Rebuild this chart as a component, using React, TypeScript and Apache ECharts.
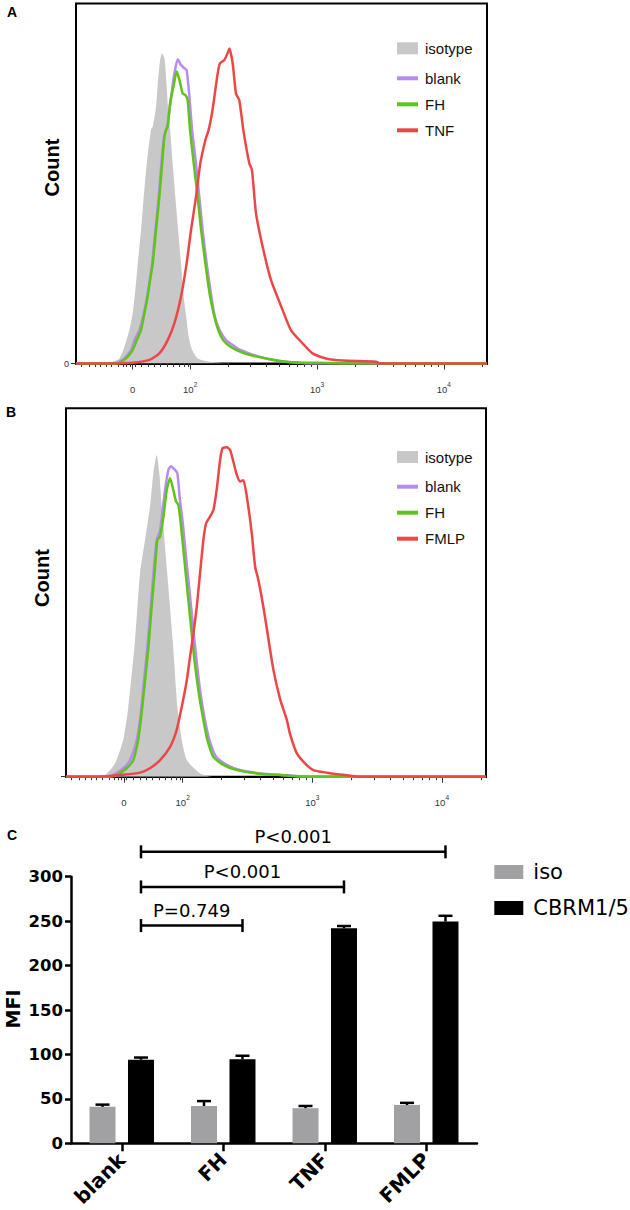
import React, { useEffect, useRef } from 'react';
import * as echarts from 'echarts';

// ---------- Panels A & B: flow histograms (x in decades of fluorescence, y in % of max count)
const decadeMin = 1.1;
const decadeMax = 4.34;
const majorTickPos = [1.547, 2, 3, 4];
const majorTickBase = ['0', '10', '10', '10'];
const majorTickSup = ['', '2', '3', '4'];
const minorTickPos = [
  1.143, 1.203, 1.248, 1.293, 1.337, 1.381, 1.43, 1.47, 1.5, 1.53, 1.568, 1.616, 1.673, 1.72, 1.768,
  1.816, 1.863, 1.911, 1.952, 1.984, 2.301, 2.477, 2.602, 2.699, 2.778, 2.845, 2.903, 2.954, 3.301,
  3.477, 3.602, 3.699, 3.778, 3.845, 3.903, 3.954, 4.301,
];

const isotypeA = [[1.1,0],[1.285,0],[1.39,0.5],[1.443,1.4],[1.482,4.7],[1.521,9.3],[1.547,13.9],[1.568,20.4],[1.587,27.8],[1.613,37.1],[1.634,46.3],[1.653,53.8],[1.673,60.2],[1.692,64.9],[1.705,65.8],[1.731,71.3],[1.747,78.7],[1.763,84.3],[1.779,86.2],[1.797,84.8],[1.802,83.4],[1.815,76.9],[1.828,69.5],[1.842,64.9],[1.862,55.6],[1.883,46.3],[1.905,37.1],[1.928,27.8],[1.949,18.6],[1.972,12.1],[1.988,7.5],[2.015,3.8],[2.059,1.4],[2.151,0.5],[2.335,0],[4.34,0]];
const blankA = [[1.1,0],[1.4,0],[1.443,0.5],[1.482,1.4],[1.535,3.8],[1.561,6.5],[1.6,9.3],[1.634,13.9],[1.661,18.6],[1.7,27.8],[1.726,37.1],[1.752,46.3],[1.773,55.6],[1.794,63.0],[1.81,64.9],[1.823,66.7],[1.85,74.1],[1.876,80.6],[1.902,84.5],[1.928,82.9],[1.954,82.0],[1.972,81.5],[1.994,74.1],[2.015,64.9],[2.046,55.6],[2.072,46.3],[2.098,37.1],[2.13,27.8],[2.167,18.6],[2.195,13.0],[2.232,9.3],[2.283,6.5],[2.335,5.1],[2.387,3.9],[2.466,2.8],[2.545,1.9],[2.65,1.0],[2.755,0.5],[2.95,0],[4.34,0]];
const fhA = [[1.1,0],[1.41,0],[1.443,0.2],[1.495,1.4],[1.547,3.8],[1.579,6.5],[1.613,9.3],[1.639,13.9],[1.665,18.6],[1.684,23.2],[1.705,27.8],[1.731,37.1],[1.757,46.3],[1.779,55.6],[1.797,63.0],[1.81,64.9],[1.823,65.8],[1.842,72.3],[1.868,76.9],[1.894,81.1],[1.915,78.8],[1.941,75.0],[1.962,74.6],[1.98,73.2],[1.999,64.9],[2.028,55.6],[2.059,46.3],[2.086,37.1],[2.12,27.8],[2.157,18.6],[2.204,11.2],[2.243,7.5],[2.283,5.6],[2.361,3.8],[2.466,2.4],[2.598,1.4],[2.755,0.5],[2.86,0.3],[3.15,0.1],[3.2,0],[4.34,0]];
const tnfA = [[1.1,0],[1.4,0],[1.547,0.2],[1.679,1.0],[1.757,2.8],[1.823,6.5],[1.876,11.2],[1.928,18.6],[1.972,27.8],[2.007,37.1],[2.046,46.3],[2.08,55.6],[2.12,62.1],[2.146,64.9],[2.172,69.5],[2.191,74.1],[2.217,80.6],[2.235,83.4],[2.269,84.3],[2.295,86.2],[2.309,87.5],[2.335,83.4],[2.361,75.0],[2.387,73.2],[2.419,64.9],[2.466,55.6],[2.487,53.8],[2.519,41.7],[2.571,32.5],[2.637,23.2],[2.728,14.9],[2.794,9.3],[2.886,5.6],[2.965,2.8],[3.07,1.4],[3.201,0.8],[3.464,0.5],[3.5,0],[4.34,0]];

const isotypeB = [[1.1,0],[1.3,0],[1.401,0.5],[1.478,3.6],[1.542,10.0],[1.581,19.0],[1.633,37.1],[1.671,55.2],[1.71,64.3],[1.748,73.3],[1.774,82.4],[1.8,87.3],[1.82,82.4],[1.839,73.3],[1.881,55.2],[1.923,37.1],[1.959,19.0],[1.993,10.0],[2.032,4.5],[2.134,0.9],[2.237,0],[4.34,0]];
const blankB = [[1.1,0],[1.4,0],[1.463,0.5],[1.542,2.3],[1.594,4.5],[1.646,10.0],[1.677,17.2],[1.702,26.2],[1.728,35.3],[1.754,46.2],[1.779,57.0],[1.8,64.3],[1.826,67.0],[1.864,77.8],[1.89,83.3],[1.91,84.3],[1.941,83.3],[1.959,82.4],[1.979,75.1],[2.001,68.8],[2.026,59.7],[2.052,50.7],[2.078,41.6],[2.104,32.6],[2.134,23.5],[2.167,16.3],[2.206,10.0],[2.258,5.4],[2.34,3.2],[2.442,1.8],[2.597,0.9],[2.751,0.5],[3.0,0],[4.34,0]];
const fhB = [[1.1,0],[1.43,0],[1.491,0.5],[1.568,2.3],[1.619,4.5],[1.657,10.0],[1.683,17.2],[1.71,26.2],[1.736,35.3],[1.761,46.2],[1.787,57.0],[1.805,64.3],[1.826,65.2],[1.852,70.6],[1.877,77.8],[1.903,81.0],[1.928,77.8],[1.949,74.7],[1.967,73.8],[1.985,68.8],[2.011,59.7],[2.036,50.7],[2.062,41.6],[2.088,32.6],[2.121,23.5],[2.155,16.3],[2.191,10.0],[2.237,5.4],[2.314,3.2],[2.417,1.8],[2.571,0.9],[2.726,0.5],[3.0,0],[4.34,0]];
const fmlpB = [[1.1,0],[1.363,0],[1.542,0.5],[1.671,1.1],[1.748,2.3],[1.826,4.5],[1.903,8.1],[1.954,12.7],[1.993,19.0],[2.032,26.2],[2.057,32.6],[2.083,38.9],[2.109,46.2],[2.134,55.2],[2.16,64.3],[2.181,68.8],[2.211,70.6],[2.237,72.4],[2.262,77.8],[2.289,86.0],[2.307,89.1],[2.34,89.4],[2.366,88.7],[2.391,85.5],[2.417,82.0],[2.443,80.1],[2.468,80.5],[2.495,76.0],[2.533,66.1],[2.559,57.0],[2.584,53.4],[2.623,46.0],[2.661,37.5],[2.7,29.0],[2.752,21.0],[2.803,15.5],[2.829,11.5],[2.88,6.4],[2.944,3.6],[3.008,1.8],[3.112,1.1],[3.24,0.5],[3.35,0],[4.34,0]];

// ---------- Panel C: MFI bars
const categories = ['blank', 'FH', 'TNF', 'FMLP'];
const isoMean = [41, 42, 39.5, 43];
const isoSd = [2.5, 5.5, 2.5, 2.5];
const cbrmMean = [94, 94.5, 242, 249.5];
const cbrmSd = [2.5, 4, 2.5, 6.5];
const bracketFrom = [0, 0, 0];
const bracketTo = [1, 2, 3];
const bracketLevel = [245, 288.5, 328];
const bracketText = ['P=0.749', 'P<0.001', 'P<0.001'];

const GRAY_FILL = '#c8c8c8';
const PURPLE = '#b68cf0';
const GREEN = '#5fc418';
const RED = '#ee4646';
const BAR_GRAY = '#a1a1a4';
const BAR_W = 26;
const BAR_GAP = 0.48;
const BAR_OFF = (BAR_W * (1 + BAR_GAP)) / 2;
const FLOW_FONT = 'Liberation Sans';
const C_FONT = 'DejaVu Sans';

const fmtMajor = (v: number) => {
  const i = majorTickPos.findIndex((p) => Math.abs(p - v) < 1e-6);
  if (i < 0) return '';
  return majorTickSup[i] ? `{b|${majorTickBase[i]}}{s|${majorTickSup[i]}}` : `{b|${majorTickBase[i]}}`;
};

const flowXMain = (gridIndex: number) => ({
  gridIndex, type: 'value', min: decadeMin, max: decadeMax, position: 'bottom',
  axisLine: { show: true, onZero: false, lineStyle: { color: '#000', width: 2 } },
  axisTick: { show: true, customValues: majorTickPos, length: 6, lineStyle: { color: '#333', width: 1 } },
  axisLabel: {
    show: true, customValues: majorTickPos, formatter: fmtMajor, margin: 17,
    rich: {
      b: { fontSize: 9.5, fontFamily: FLOW_FONT, color: '#333', lineHeight: 14, verticalAlign: 'bottom' },
      s: { fontSize: 6.5, fontFamily: FLOW_FONT, color: '#333', lineHeight: 14, verticalAlign: 'top' },
    },
  },
  splitLine: { show: false },
});
const flowXMinor = (gridIndex: number) => ({
  gridIndex, type: 'value', min: decadeMin, max: decadeMax, position: 'bottom',
  axisLine: { show: false },
  axisTick: { show: true, customValues: minorTickPos, length: 3.5, lineStyle: { color: '#333', width: 1 } },
  axisLabel: { show: false },
  splitLine: { show: false },
});
const flowY = (gridIndex: number, showZero: boolean) => ({
  gridIndex, type: 'value', min: 0, max: 100,
  axisLine: { show: false },
  axisTick: { show: true, customValues: [0], length: 5, lineStyle: { color: '#333', width: 1 } },
  axisLabel: { show: showZero, customValues: [0], fontSize: 9, color: '#333', margin: 7, fontFamily: FLOW_FONT },
  splitLine: { show: false },
});

const areaSeries = (name: string, data: number[][], xi: number, yi: number) => ({
  name, type: 'line', xAxisIndex: xi, yAxisIndex: yi, data, symbol: 'none', showSymbol: false, smooth: 0.2,
  lineStyle: { width: 0, color: GRAY_FILL }, itemStyle: { color: GRAY_FILL },
  areaStyle: { color: GRAY_FILL, opacity: 1 }, z: 2,
});
const lineSeries = (name: string, data: number[][], color: string, xi: number, yi: number, z: number) => ({
  name, type: 'line', xAxisIndex: xi, yAxisIndex: yi, data, symbol: 'none', showSymbol: false, smooth: 0.2,
  lineStyle: { width: 2.5, color }, itemStyle: { color }, z,
});

const flowLegend = (names: string[], top: number, isRect: boolean) => ({
  orient: 'vertical', left: 392, top, itemWidth: 21, itemHeight: isRect ? 12 : 4, itemGap: 11,
  selectedMode: false,
  data: names.map((n) => ({ name: n, icon: 'rect' })),
  itemStyle: { borderWidth: 0 },
  textStyle: { fontFamily: FLOW_FONT, fontSize: 15, color: '#111', lineHeight: 15, padding: [0, 0, 0, 2] },
});

export default function App() {
  const ref = useRef<HTMLDivElement>(null);
  useEffect(() => {
    if (!ref.current) return;
    const chart = echarts.init(ref.current, undefined, { renderer: 'svg' });

    const errData = categories.flatMap((_, i) => [
      [i, isoMean[i], isoMean[i] + isoSd[i], 0],
      [i, cbrmMean[i], cbrmMean[i] + cbrmSd[i], 1],
    ]);
    const bracketData = bracketFrom.map((f, i) => [f, bracketTo[i], bracketLevel[i]]);

    const option: any = {
      animation: false,
      backgroundColor: '#fff',
      grid: [
        { left: 76, top: 3.5, width: 411, height: 360, show: true, borderColor: '#000', borderWidth: 2, outerBoundsMode: 'none' },
        { left: 66, top: 408.3, width: 420, height: 368.4, show: true, borderColor: '#000', borderWidth: 2, outerBoundsMode: 'none' },
        { left: 71, top: 876.7, width: 406, height: 266.6, outerBoundsMode: 'none' },
      ],
      xAxis: [
        flowXMain(0), flowXMinor(0), flowXMain(1), flowXMinor(1),
        {
          gridIndex: 2, type: 'category', data: categories,
          axisLine: { show: true, lineStyle: { color: '#000', width: 2.5 } },
          axisTick: { show: true, alignWithLabel: true, length: 8, lineStyle: { color: '#000', width: 2.5 } },
          axisLabel: { rotate: 45, margin: 13, fontFamily: C_FONT, fontWeight: 'bold', fontSize: 20, color: '#000' },
        },
      ],
      yAxis: [
        flowY(0, true), flowY(1, false),
        {
          gridIndex: 2, type: 'value', min: 0, max: 300, interval: 50,
          axisLine: { show: true, lineStyle: { color: '#000', width: 2.5 } },
          axisTick: { show: true, length: 6, lineStyle: { color: '#000', width: 2.5 } },
          axisLabel: { margin: 8, fontFamily: C_FONT, fontWeight: 'bold', fontSize: 16.5, color: '#000' },
          splitLine: { show: false },
        },
      ],
      legend: [
        flowLegend(['isotype'], 35.8, true),
        flowLegend(['blank', 'FH', 'TNF'], 65.8, false),
        flowLegend(['isotype'], 444.5, true),
        flowLegend(['blank', 'FH', 'FMLP'], 474.2, false),
        {
          orient: 'vertical', left: 489.3, top: 856.5, itemWidth: 29, itemHeight: 14, itemGap: 15,
          selectedMode: false, data: [{ name: 'iso', icon: 'rect' }, { name: 'CBRM1/5', icon: 'rect' }],
          itemStyle: { borderWidth: 0 },
          textStyle: { fontFamily: C_FONT, fontSize: 21, color: '#000', lineHeight: 21, padding: [0, 0, 0, 5] },
        },
      ],
      series: [
        areaSeries('isotype', isotypeA, 0, 0),
        lineSeries('blank', blankA, PURPLE, 0, 0, 3),
        lineSeries('FH', fhA, GREEN, 0, 0, 4),
        lineSeries('TNF', tnfA, RED, 0, 0, 5),
        areaSeries('isotype', isotypeB, 2, 1),
        lineSeries('blank', blankB, PURPLE, 2, 1, 3),
        lineSeries('FH', fhB, GREEN, 2, 1, 4),
        lineSeries('FMLP', fmlpB, RED, 2, 1, 5),
        {
          name: 'iso', type: 'bar', xAxisIndex: 4, yAxisIndex: 2, data: isoMean,
          barWidth: BAR_W, barGap: `${BAR_GAP * 100}%`, itemStyle: { color: BAR_GRAY },
        },
        {
          name: 'CBRM1/5', type: 'bar', xAxisIndex: 4, yAxisIndex: 2, data: cbrmMean,
          barWidth: BAR_W, barGap: `${BAR_GAP * 100}%`, itemStyle: { color: '#000' },
        },
        {
          type: 'custom', xAxisIndex: 4, yAxisIndex: 2, data: errData, clip: false, z: 5,
          renderItem: (params: any, api: any) => {
            const i = api.value(0);
            const lo = api.value(1);
            const hi = api.value(2);
            const s = api.value(3);
            const p0 = api.coord([i, lo]);
            const p1 = api.coord([i, hi]);
            const x = p0[0] + (s === 0 ? -BAR_OFF : BAR_OFF);
            return {
              type: 'group',
              children: [
                { type: 'line', shape: { x1: x, y1: p0[1], x2: x, y2: p1[1] }, style: { stroke: '#000', lineWidth: 2.5 } },
                { type: 'line', shape: { x1: x - 7, y1: p1[1], x2: x + 7, y2: p1[1] }, style: { stroke: '#000', lineWidth: 2.5 } },
              ],
            };
          },
        },
        {
          type: 'custom', xAxisIndex: 4, yAxisIndex: 2, data: bracketData, clip: false, z: 5,
          renderItem: (params: any, api: any) => {
            const a = api.coord([api.value(0), api.value(2)]);
            const b = api.coord([api.value(1), api.value(2)]);
            const x1 = a[0] + BAR_OFF;
            const x2 = b[0] + BAR_OFF;
            const y = a[1];
            return {
              type: 'group',
              children: [
                { type: 'line', shape: { x1, y1: y, x2, y2: y }, style: { stroke: '#000', lineWidth: 2.5 } },
                { type: 'line', shape: { x1, y1: y - 6.5, x2: x1, y2: y + 6.5 }, style: { stroke: '#000', lineWidth: 2.5 } },
                { type: 'line', shape: { x1: x2, y1: y - 6.5, x2, y2: y + 6.5 }, style: { stroke: '#000', lineWidth: 2.5 } },
                {
                  type: 'text', x: (x1 + x2) / 2, y: y - 15,
                  style: { text: bracketText[params.dataIndex], fill: '#000', font: `18px "${C_FONT}"`, align: 'center', verticalAlign: 'middle' },
                },
              ],
            };
          },
        },
      ],
      graphic: [
        { type: 'text', x: 12, y: 12, style: { text: 'A', font: `bold 14px "${FLOW_FONT}"`, fill: '#000', align: 'center', verticalAlign: 'middle' } },
        { type: 'text', x: 11, y: 412, style: { text: 'B', font: `bold 14px "${FLOW_FONT}"`, fill: '#000', align: 'center', verticalAlign: 'middle' } },
        { type: 'text', x: 12, y: 835, style: { text: 'C', font: `bold 14px "${FLOW_FONT}"`, fill: '#000', align: 'center', verticalAlign: 'middle' } },
        { type: 'text', x: 52, y: 167.5, rotation: Math.PI / 2, style: { text: 'Count', font: `bold 20px "${FLOW_FONT}"`, fill: '#000', align: 'center', verticalAlign: 'middle' } },
        { type: 'text', x: 42, y: 578, rotation: Math.PI / 2, style: { text: 'Count', font: `bold 20px "${FLOW_FONT}"`, fill: '#000', align: 'center', verticalAlign: 'middle' } },
        { type: 'text', x: 12.5, y: 1009, rotation: Math.PI / 2, style: { text: 'MFI', font: `bold 19px "${C_FONT}"`, fill: '#000', align: 'center', verticalAlign: 'middle' } },
      ],
    };
    chart.setOption(option);
    return () => chart.dispose();
  }, []);
  return (
    <div
      ref={ref}
      style={{ position: 'fixed', left: 0, top: 0, width: 630, height: 1210, background: '#fff' }}
    />
  );
}
